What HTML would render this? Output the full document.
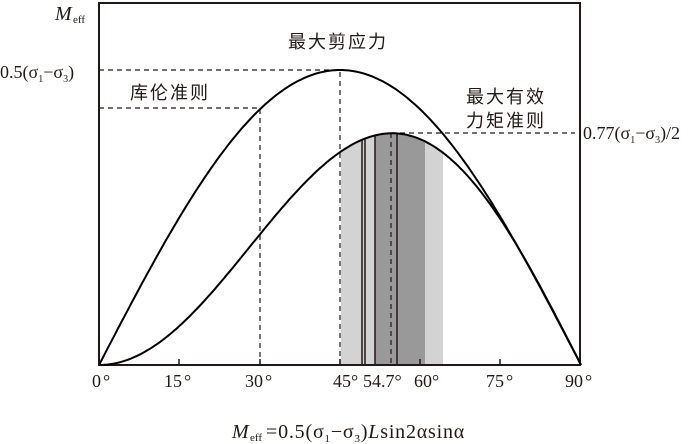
<!DOCTYPE html>
<html><head><meta charset="utf-8"><style>body{margin:0;background:#fff}svg{display:block}</style></head><body>
<svg id="s" width="700" height="444" xmlns="http://www.w3.org/2000/svg" font-family="'Liberation Serif','Noto Serif CJK SC',serif">
<g id="shade"></g>
<rect x="99" y="3" width="481" height="362" fill="none" stroke="#231815" stroke-width="2"/>
<g stroke="#231815" stroke-width="1.2" stroke-dasharray="5,4" fill="none">
<path d="M99 70H340V365"/><path d="M99 108H260V365"/><path d="M391 133H575M391 133V365"/>
</g>
<path id="c1" fill="none" stroke="#000" stroke-width="2"/>
<path id="c2" fill="none" stroke="#000" stroke-width="2"/>
<g stroke="#231815" stroke-width="1.5"><path d="M99 357V365M179 359V365M260 359V365M340 359V365M420 359V365M500 359V365"/></g>
<g font-size="18" fill="#231815">
<text x="92" y="387">0<tspan dx="2">°</tspan></text><text x="164" y="387">15<tspan dx="2">°</tspan></text><text x="245" y="387">30<tspan dx="2">°</tspan></text><text x="333" y="387">45°</text>
<text x="363" y="387">54.7°</text><text x="414" y="387">60°</text><text x="486" y="387">75<tspan dx="2">°</tspan></text><text x="565" y="387">90<tspan dx="2">°</tspan></text>
<text x="0" y="78">0.5(σ<tspan font-size="10" dy="4">1</tspan><tspan dy="-4">−σ</tspan><tspan font-size="10" dy="4">3</tspan><tspan dy="-4">)</tspan></text>
<text x="583" y="139">0.77(σ<tspan font-size="10" dy="4">1</tspan><tspan dy="-4">−σ</tspan><tspan font-size="10" dy="4">3</tspan><tspan dy="-4">)/2</tspan></text>
<text x="55" y="20" font-style="italic" font-size="20">M</text><text x="73" y="23" font-size="11">eff</text>
<text x="232" y="438" font-style="italic" font-size="20">M</text><text x="250" y="441" font-size="11">eff</text>
<text x="266" y="438" font-size="20" letter-spacing="0.8">=0.5(σ<tspan font-size="11" dy="4">1</tspan><tspan dy="-4">−σ</tspan><tspan font-size="11" dy="4">3</tspan><tspan dy="-4">)</tspan><tspan font-style="italic">L</tspan>sin2αsinα</text>
<text x="288" y="48" font-family="'Noto Sans CJK SC',sans-serif" font-size="18" letter-spacing="2">最大剪应力</text>
<text x="130" y="99" font-family="'Noto Sans CJK SC',sans-serif" font-size="18" letter-spacing="2">库伦准则</text>
<text x="466" y="103" font-family="'Noto Sans CJK SC',sans-serif" font-size="18" letter-spacing="2">最大有效</text>
<text x="466" y="127" font-family="'Noto Sans CJK SC',sans-serif" font-size="18" letter-spacing="2">力矩准则</text>
</g>
<script>
const K=5.356;
function f2(x){const a=(x-99)/K*Math.PI/180;return 365-301*Math.sin(2*a)*Math.sin(a);}
function pt(f,A){let d='';for(let i=0;i<=180;i++){const a=i/2*Math.PI/180;const x=99+i/2*K;const y=365-A*f(a);d+=(i?'L':'M')+x.toFixed(1)+' '+y.toFixed(1);}return d;}
document.getElementById('c1').setAttribute('d',pt(a=>Math.sin(2*a),295));
document.getElementById('c2').setAttribute('d',pt(a=>Math.sin(2*a)*Math.sin(a),301));
const NS='http://www.w3.org/2000/svg',g=document.getElementById('shade');
function area(x0,x1,fill){let d='M'+x0+' 365';for(let x=x0;x<=x1;x+=0.5)d+='L'+x+' '+f2(x).toFixed(1);d+='L'+x1+' '+f2(x1).toFixed(1)+'L'+x1+' 365Z';const p=document.createElementNS(NS,'path');p.setAttribute('d',d);p.setAttribute('fill',fill);g.appendChild(p);}
area(341,443,'#d3d3d3');area(375,425,'#999');
[362,365,375,397].forEach(x=>{const l=document.createElementNS(NS,'line');l.setAttribute('x1',x);l.setAttribute('x2',x);l.setAttribute('y1',365);l.setAttribute('y2',f2(x));l.setAttribute('stroke','#231815');l.setAttribute('stroke-width','1.5');g.appendChild(l);});
</script>
</svg>
</body></html>
